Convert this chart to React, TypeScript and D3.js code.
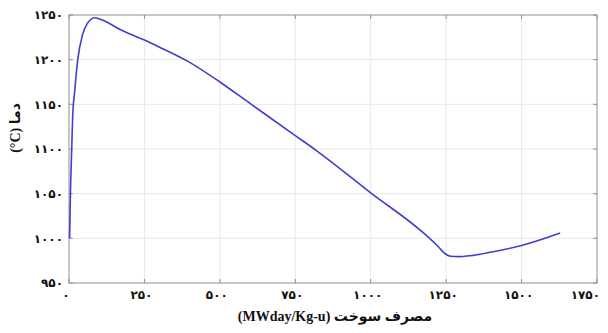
import React, { useEffect, useRef } from 'react';
import * as d3 from 'd3';

// burnup (MWday/Kg-u) and temperature (°C)
const burnup = [2, 5, 9, 12, 19, 29, 45, 60, 85, 120, 168, 200, 250, 300, 400, 500, 600, 750, 821, 1000, 1175, 1220, 1248, 1265, 1290, 1330, 1406, 1500, 1628];
const temp = [1000, 1055, 1100, 1135, 1165, 1200, 1228, 1240, 1247, 1243, 1234, 1229, 1222, 1214, 1197, 1175, 1151, 1115, 1098, 1051, 1006, 992, 982.5, 980, 979.5, 980.5, 985, 992, 1006];

const xTicks = [0, 250, 500, 750, 1000, 1250, 1500, 1750];
const xTickLabels = ['۰', '۲۵۰', '۵۰۰', '۷۵۰', '۱۰۰۰', '۱۲۵۰', '۱۵۰۰', '۱۷۵۰'];
const yTicks = [950, 1000, 1050, 1100, 1150, 1200, 1250];
const yTickLabels = ['۹۵۰', '۱۰۰۰', '۱۰۵۰', '۱۱۰۰', '۱۱۵۰', '۱۲۰۰', '۱۲۵۰'];

// written in visual order, drawn left to right
const xTitle = '(MWday/Kg-u) مصرف سوخت';
const yTitle = '(°C) دما';

const W = 608, H = 333;
const margin = { top: 15, right: 11, bottom: 50, left: 69 };

export default function App() {
    const ref = useRef<SVGSVGElement>(null);

    useEffect(() => {
        const svg = d3.select(ref.current);
        svg.selectAll('*').remove();

        const width = W - margin.left - margin.right;
        const height = H - margin.top - margin.bottom;

        const x = d3.scaleLinear().domain([0, 1750]).range([0, width]);
        const y = d3.scaleLinear().domain([950, 1250]).range([height, 0]);

        const g = svg.append('g').attr('transform', `translate(${margin.left},${margin.top})`);

        // grid
        g.selectAll('.vgrid').data(xTicks.slice(1, -1)).enter().append('line')
            .attr('x1', d => x(d)).attr('x2', d => x(d))
            .attr('y1', 0).attr('y2', height)
            .attr('stroke', '#e8e8e8').attr('stroke-width', 1);
        g.selectAll('.hgrid').data(yTicks.slice(1, -1)).enter().append('line')
            .attr('x1', 0).attr('x2', width)
            .attr('y1', d => y(d)).attr('y2', d => y(d))
            .attr('stroke', '#e8e8e8').attr('stroke-width', 1);

        // box
        g.append('rect').attr('width', width).attr('height', height)
            .attr('fill', 'none').attr('stroke', '#8f8f8f').attr('stroke-width', 1);

        // inward ticks on all four sides
        const tl = 4;
        xTicks.forEach(t => {
            g.append('line').attr('x1', x(t)).attr('x2', x(t)).attr('y1', height).attr('y2', height - tl).attr('stroke', '#8f8f8f');
            g.append('line').attr('x1', x(t)).attr('x2', x(t)).attr('y1', 0).attr('y2', tl).attr('stroke', '#8f8f8f');
        });
        yTicks.forEach(t => {
            g.append('line').attr('x1', 0).attr('x2', tl).attr('y1', y(t)).attr('y2', y(t)).attr('stroke', '#8f8f8f');
            g.append('line').attr('x1', width).attr('x2', width - tl).attr('y1', y(t)).attr('y2', y(t)).attr('stroke', '#8f8f8f');
        });

        // tick labels
        const last = xTicks.length - 1;
        g.selectAll('.xl').data(xTicks).enter().append('text')
            .attr('x', (d, i) => i === last ? x(d) + 3 : x(d) - 3).attr('y', height + 16)
            .attr('text-anchor', (d, i) => i === last ? 'end' : 'middle')
            .attr('font-family', 'DejaVu Sans').attr('font-size', 12).attr('font-weight', 'bold')
            .attr('fill', '#111')
            .text((d, i) => xTickLabels[i]);
        g.selectAll('.yl').data(yTicks).enter().append('text')
            .attr('x', -6).attr('y', d => y(d)).attr('dy', '0.35em')
            .attr('text-anchor', 'end')
            .attr('font-family', 'DejaVu Sans').attr('font-size', 12).attr('font-weight', 'bold')
            .attr('fill', '#111')
            .text((d, i) => yTickLabels[i]);

        // curve
        const line = d3.line<number>()
            .x((d, i) => x(burnup[i]))
            .y(d => y(d))
            .curve(d3.curveMonotoneX);
        g.append('path').datum(temp)
            .attr('d', line)
            .attr('fill', 'none')
            .attr('stroke', '#3e3ed2')
            .attr('stroke-width', 1.6);

        // axis titles
        svg.append('text')
            .attr('x', 335).attr('y', 321)
            .attr('text-anchor', 'middle')
            .attr('direction', 'ltr')
            .attr('font-family', "'Liberation Serif', 'DejaVu Sans'")
            .attr('font-size', 14).attr('font-weight', 'bold')
            .attr('fill', '#111')
            .text(xTitle);
        svg.append('text')
            .attr('transform', 'translate(20,128) rotate(-90)')
            .attr('text-anchor', 'middle')
            .attr('direction', 'ltr')
            .attr('font-family', "'Liberation Serif', 'DejaVu Sans'")
            .attr('font-size', 14).attr('font-weight', 'bold')
            .attr('fill', '#111')
            .text(yTitle);
    }, []);

    return (
        <svg ref={ref} width={W} height={H}
            style={{ position: 'absolute', left: 0, top: 0, background: '#fff' }} />
    );
}
